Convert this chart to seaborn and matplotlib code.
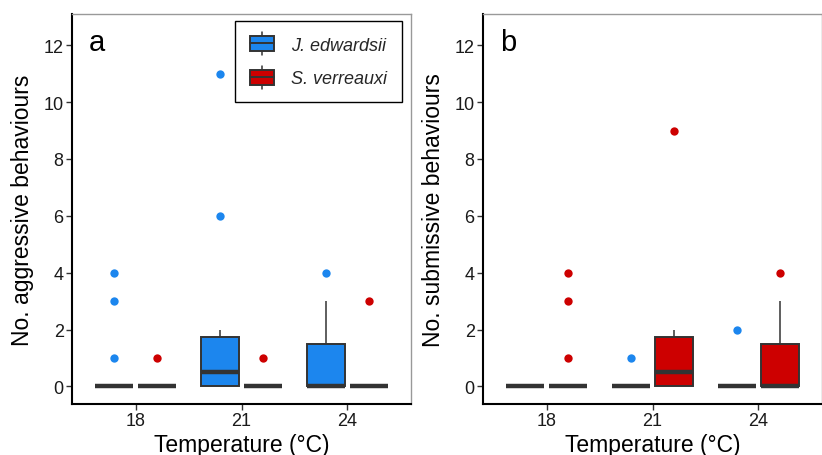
import seaborn as sns
import pandas as pd
import matplotlib.pyplot as plt
from matplotlib.legend_handler import HandlerBase
from matplotlib.patches import Patch, Rectangle
from matplotlib.lines import Line2D

TEMPS = ["18", "21", "24"]
SPECIES = ["J. edwardsii", "S. verreauxi"]
COLORS = {"J. edwardsii": "#1C86EE", "S. verreauxi": "#CD0000"}
EDGE = "#333333"

# number of behaviours per individual, panel a (aggressive)
aggr_jed_18 = [0, 0, 0, 0, 0, 0, 0, 0, 0, 0, 0, 1, 3, 4]
aggr_jed_21 = [0, 0, 0, 0, 0, 0, 0, 1, 1, 1, 2, 2, 6, 11]
aggr_jed_24 = [0, 0, 0, 0, 0, 0, 0, 0, 0, 0, 2, 2, 3, 4]
aggr_sve_18 = [0, 0, 0, 0, 0, 0, 0, 0, 0, 0, 0, 0, 0, 1]
aggr_sve_21 = [0, 0, 0, 0, 0, 0, 0, 0, 0, 0, 0, 0, 0, 1]
aggr_sve_24 = [0, 0, 0, 0, 0, 0, 0, 0, 0, 0, 0, 0, 0, 3]

# panel b (submissive)
subm_jed_18 = [0, 0, 0, 0, 0, 0, 0, 0, 0, 0, 0, 0, 0, 0]
subm_jed_21 = [0, 0, 0, 0, 0, 0, 0, 0, 0, 0, 0, 0, 0, 1]
subm_jed_24 = [0, 0, 0, 0, 0, 0, 0, 0, 0, 0, 0, 0, 0, 2]
subm_sve_18 = [0, 0, 0, 0, 0, 0, 0, 0, 0, 0, 0, 1, 3, 4]
subm_sve_21 = [0, 0, 0, 0, 0, 0, 0, 1, 1, 1, 2, 2, 2, 9]
subm_sve_24 = [0, 0, 0, 0, 0, 0, 0, 0, 0, 0, 2, 2, 3, 4]

aggr = {("18", SPECIES[0]): aggr_jed_18, ("21", SPECIES[0]): aggr_jed_21, ("24", SPECIES[0]): aggr_jed_24,
        ("18", SPECIES[1]): aggr_sve_18, ("21", SPECIES[1]): aggr_sve_21, ("24", SPECIES[1]): aggr_sve_24}
subm = {("18", SPECIES[0]): subm_jed_18, ("21", SPECIES[0]): subm_jed_21, ("24", SPECIES[0]): subm_jed_24,
        ("18", SPECIES[1]): subm_sve_18, ("21", SPECIES[1]): subm_sve_21, ("24", SPECIES[1]): subm_sve_24}


def to_frame(groups):
    rows = []
    for (t, sp), vals in groups.items():
        for v in vals:
            rows.append({"Temperature": t, "Species": sp, "Count": v})
    return pd.DataFrame(rows)


class BoxHandler(HandlerBase):
    def create_artists(self, legend, orig_handle, xdescent, ydescent, width, height, fontsize, trans):
        x0, y0 = -xdescent, -ydescent
        cx = x0 + width / 2
        whisk = Line2D([cx, cx], [y0 - 0.2 * height, y0 + 1.2 * height], color=EDGE, lw=1.1, transform=trans)
        box = Rectangle((x0, y0 + 0.05 * height), width, 0.9 * height, facecolor=orig_handle.get_facecolor(),
                        edgecolor=EDGE, lw=1.4, transform=trans)
        med = Line2D([x0, x0 + width], [y0 + height / 2] * 2, color=EDGE, lw=1.4, transform=trans)
        return [whisk, box, med]


sns.set_theme(style="white")
plt.rcParams["font.family"] = ["Liberation Sans", "DejaVu Sans"]

fig = plt.figure(figsize=(8.22, 4.56), dpi=100)
ax_a = fig.add_axes([72 / 822, 51 / 456, 339 / 822, 390 / 456])
ax_b = fig.add_axes([483 / 822, 51 / 456, 339 / 822, 390 / 456])

panels = [(ax_a, aggr, "No. aggressive behaviours", "a"),
          (ax_b, subm, "No. submissive behaviours", "b")]

for ax, groups, ylab, letter in panels:
    df = to_frame(groups)
    sns.boxplot(data=df, x="Temperature", y="Count", hue="Species", order=TEMPS, hue_order=SPECIES,
                palette=COLORS, saturation=1, linecolor=EDGE, linewidth=1.4, width=0.8, gap=0.1,
                showcaps=False, medianprops=dict(linewidth=3.2, color=EDGE), whiskerprops=dict(linewidth=1.1),
                flierprops=dict(marker="o", markersize=6, markeredgewidth=0),
                legend=False, ax=ax)

    # colour the outliers like their box
    boxes = [p for p in ax.patches]
    for ln in ax.lines:
        xd = ln.get_xdata()
        if ln.get_marker() == "o" and len(xd):
            xm = sum(xd) / len(xd)
            best = min(boxes, key=lambda p: abs((p.get_extents().x0 + p.get_extents().x1) / 2
                                                 - ax.transData.transform((xm, 0))[0]))
            ln.set_markerfacecolor(best.get_facecolor())

    ax.set_xlim(-0.6, 2.6)
    ax.set_ylim(-0.62, 13.1)
    ax.set_yticks([0, 2, 4, 6, 8, 10, 12])
    ax.set_xlabel("Temperature (°C)", fontsize=16.5, color="black", labelpad=3)
    ax.set_ylabel(ylab, fontsize=16.5, color="black", labelpad=7)
    ax.tick_params(axis="both", which="both", length=4, width=1, color=EDGE, labelsize=13,
                   labelcolor="#1a1a1a", pad=2, left=True, bottom=True)
    for side in ["left", "bottom"]:
        ax.spines[side].set_color("black")
        ax.spines[side].set_linewidth(1.5)
    for side in ["top", "right"]:
        ax.spines[side].set_color("#999999")
        ax.spines[side].set_linewidth(1.0)
    ax.text(0.05, 0.965, letter, transform=ax.transAxes, fontsize=21, va="top", ha="left", color="black")

handles = [Patch(facecolor=COLORS[s]) for s in SPECIES]
leg = ax_a.legend(handles, SPECIES, handler_map={Patch: BoxHandler()}, loc="upper right",
                  bbox_to_anchor=(0.973, 0.983), borderaxespad=0, fancybox=False, framealpha=1,
                  edgecolor="black", prop=dict(size=13, style="italic"), handlelength=1.35,
                  handleheight=1.05, labelspacing=0.85, borderpad=0.8, handletextpad=0.95)
leg.get_frame().set_linewidth(1.0)

fig.savefig("out.png", dpi=100)
